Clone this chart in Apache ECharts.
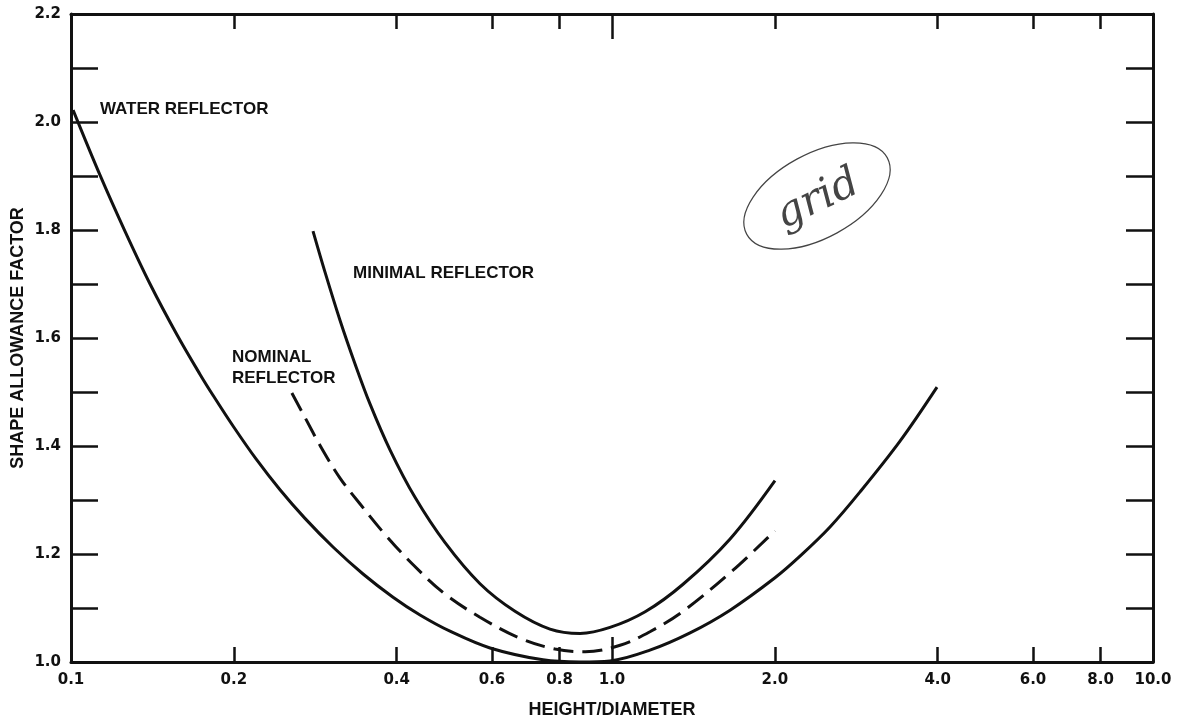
<!DOCTYPE html>
<html>
<head>
<meta charset="utf-8">
<script src="https://cdn.jsdelivr.net/npm/echarts@6/dist/echarts.min.js"></script>
<style>
html,body{margin:0;padding:0;background:#fff;}
#chart{width:1177px;height:724px;}
</style>
</head>
<body>
<div id="chart"></div>
<script>
// ---- data ----
const waterX = [0.1009, 0.1131, 0.1258, 0.1400, 0.1570, 0.1731, 0.1830, 0.1993, 0.2198, 0.2434, 0.2707, 0.3050, 0.3466, 0.3938, 0.4417, 0.5018, 0.5950, 0.7456, 0.8728, 0.9915, 1.175, 1.394, 1.653, 2.001, 2.226, 2.529, 2.874, 3.407, 3.988];
const waterY = [2.022, 1.902, 1.798, 1.700, 1.606, 1.533, 1.494, 1.437, 1.376, 1.319, 1.266, 1.213, 1.163, 1.120, 1.087, 1.057, 1.026, 1.004, 1.000, 1.002, 1.022, 1.054, 1.096, 1.156, 1.196, 1.250, 1.315, 1.409, 1.509];

const minimalX = [0.2801, 0.2948, 0.3142, 0.3350, 0.3570, 0.3887, 0.4324, 0.4914, 0.5702, 0.6617, 0.7680, 0.8728, 0.9915, 1.1515, 1.353, 1.653, 2.001];
const minimalY = [1.798, 1.722, 1.633, 1.552, 1.478, 1.393, 1.305, 1.221, 1.145, 1.094, 1.061, 1.053, 1.064, 1.093, 1.144, 1.228, 1.336];

const nominalX = [0.256, 0.271, 0.289, 0.314, 0.342, 0.380, 0.429, 0.491, 0.570, 0.676, 0.785, 0.892, 1.035, 1.175, 1.353, 1.674, 2.0];
const nominalY = [1.498, 1.452, 1.400, 1.341, 1.293, 1.237, 1.180, 1.126, 1.083, 1.044, 1.024, 1.019, 1.031, 1.056, 1.094, 1.170, 1.243];

const xTickValues = [0.2, 0.4, 0.6, 0.8, 1.0, 2.0, 4.0, 6.0, 8.0];
const xLabelValues = [0.1, 0.2, 0.4, 0.6, 0.8, 1.0, 2.0, 4.0, 6.0, 8.0, 10.0];
const xLongTick = [1.0];
const yLabelValues = [1.0, 1.2, 1.4, 1.6, 1.8, 2.0, 2.2];

const seriesNames = ['WATER REFLECTOR', 'MINIMAL REFLECTOR', 'NOMINAL REFLECTOR'];

function pairs(xs, ys) { return xs.map((x, i) => [x, ys[i]]); }

const NUMFONT = 'DejaVu Sans';
const TXTFONT = 'Liberation Sans';
const INK = '#111';

const chart = echarts.init(document.getElementById('chart'), null, {renderer: 'canvas'});

function xAxisBase(pos, opts) {
  return Object.assign({
    type: 'log', logBase: 10, min: 0.1, max: 10, position: pos,
    axisLine: {show: true, onZero: false, lineStyle: {color: INK, width: 3}},
    axisTick: {show: true, inside: true, length: 15, lineStyle: {color: INK, width: 2.5}, customValues: xTickValues},
    axisLabel: {show: false},
    splitLine: {show: false},
    minorTick: {show: false}, minorSplitLine: {show: false}
  }, opts || {});
}

const option = {
  backgroundColor: '#fff',
  animation: false,
  grid: {left: 71, right: 24, top: 14, bottom: 62, containLabel: false, outerBoundsMode: 'none'},
  xAxis: [
    xAxisBase('bottom', {
      name: 'HEIGHT/DIAMETER', nameLocation: 'middle', nameGap: 39, nameMoveOverlap: false,
      nameTextStyle: {fontFamily: TXTFONT, fontWeight: 'bold', fontSize: 18, color: INK},
      axisLabel: {show: true, customValues: xLabelValues, margin: 11,
        fontFamily: NUMFONT, fontWeight: 'bold', fontSize: 15, color: INK,
        formatter: v => Number(v).toFixed(1)}
    }),
    xAxisBase('top'),
    xAxisBase('bottom', {axisLine: {show: false}, axisTick: {show: true, inside: true, length: 25, lineStyle: {color: INK, width: 2.5}, customValues: xLongTick}}),
    xAxisBase('top', {axisLine: {show: false}, axisTick: {show: true, inside: true, length: 25, lineStyle: {color: INK, width: 2.5}, customValues: xLongTick}})
  ],
  yAxis: [
    {
      type: 'value', min: 1.0, max: 2.2, interval: 0.1, position: 'left',
      name: 'SHAPE ALLOWANCE FACTOR', nameLocation: 'middle', nameGap: 44, nameMoveOverlap: false,
      nameTextStyle: {fontFamily: TXTFONT, fontWeight: 'bold', fontSize: 18, color: INK},
      axisLine: {show: true, onZero: false, lineStyle: {color: INK, width: 3}},
      axisTick: {show: true, inside: true, length: 27, lineStyle: {color: INK, width: 2.5}},
      axisLabel: {show: true, customValues: yLabelValues, margin: 10,
        fontFamily: NUMFONT, fontWeight: 'bold', fontSize: 15, color: INK,
        formatter: v => Number(v).toFixed(1)},
      splitLine: {show: false}
    },
    {
      type: 'value', min: 1.0, max: 2.2, interval: 0.1, position: 'right',
      axisLine: {show: true, onZero: false, lineStyle: {color: INK, width: 3}},
      axisTick: {show: true, inside: true, length: 27, lineStyle: {color: INK, width: 2.5}},
      axisLabel: {show: false},
      splitLine: {show: false}
    }
  ],
  series: [
    {name: seriesNames[0], type: 'line', xAxisIndex: 0, yAxisIndex: 0, data: pairs(waterX, waterY),
     smooth: 0.35, showSymbol: false, lineStyle: {color: INK, width: 3}},
    {name: seriesNames[1], type: 'line', xAxisIndex: 0, yAxisIndex: 0, data: pairs(minimalX, minimalY),
     smooth: 0.35, showSymbol: false, lineStyle: {color: INK, width: 3}},
    {name: seriesNames[2], type: 'line', xAxisIndex: 0, yAxisIndex: 0, data: pairs(nominalX, nominalY),
     smooth: 0.35, showSymbol: false, lineStyle: {color: INK, width: 3, type: [20, 9]}}
  ],
  graphic: [
    {type: 'text', left: 100, top: 101, style: {text: 'WATER REFLECTOR', font: 'bold 17px "Liberation Sans"', fill: INK}},
    {type: 'text', left: 353, top: 265, style: {text: 'MINIMAL REFLECTOR', font: 'bold 17px "Liberation Sans"', fill: INK}},
    {type: 'text', left: 232, top: 347, style: {text: 'NOMINAL\nREFLECTOR', font: 'bold 17px "Liberation Sans"', fill: INK, lineHeight: 21}},
    {type: 'ellipse', x: 817, y: 196, rotation: 0.5,
     shape: {cx: 0, cy: 0, rx: 80, ry: 42}, style: {fill: 'none', stroke: '#444', lineWidth: 1.2}},
    {type: 'text', x: 818, y: 200, rotation: 0.45,
     style: {text: 'grid', font: 'italic 42px "DejaVu Serif"', fill: '#444', align: 'center', verticalAlign: 'middle'}}
  ]
};
chart.setOption(option);
</script>
</body>
</html>
